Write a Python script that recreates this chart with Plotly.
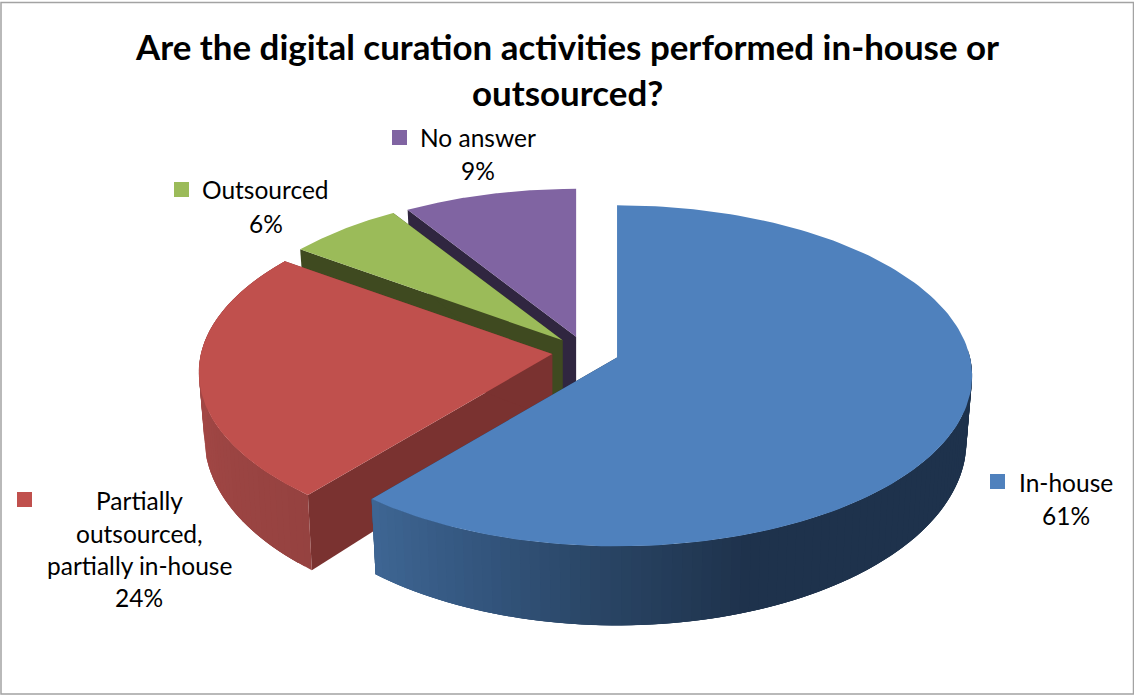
import numpy as np
import plotly.graph_objects as go

# Survey shares, in the clockwise order of the slices
categories = ["In-house", "Partially outsourced, partially in-house", "Outsourced", "No answer"]
label_lines = [["In-house", "61%"],
               ["Partially", "outsourced,", "partially in-house", "24%"],
               ["Outsourced", "6%"],
               ["No answer", "9%"]]
values = [61, 24, 6, 9]
title_lines = ["Are the digital curation activities performed in-house or", "outsourced?"]

top_colors = ["#4f81bd", "#c0504d", "#9bbb59", "#8064a2"]
cut_colors = ["#1f334d", "#7a3230", "#3f4a20", "#302640"]
# Shading of the curved rim: (angle in degrees, colour)
rim_stops = [
    [(90, "#1e324c"), (160, "#1e324c"), (183, "#2a4666"), (199, "#33557d"), (220, "#3f6795")],
    [(219, "#954240"), (260, "#a24745"), (306, "#a54845")],
    [(306, "#6a7f3c"), (328, "#6a7f3c")],
    [(327, "#5a4672"), (360, "#5a4672")],
]

# Screen-space projection of the tilted pie
CX, CY = 585.5, 352.0
RX, RY = 353.0, 168.5
PERSPECTIVE = 0.108
EXPLODE = 0.095
DEPTH_SHRINK = 0.022
WALL = 64.0
WALL_SCALE_X = 0.984
WALL_SCALE_Y = 1.08


def project(theta, apex, scale, lower=False):
    """Map clockwise-from-top angles (radians) onto the slice rim."""
    px, py = np.sin(theta), np.cos(theta)
    w = 1 + PERSPECTIVE * py
    dx, dy = scale * RX * px / w, -scale * RY * py / w
    if lower:
        return apex[0] + dx * WALL_SCALE_X, apex[1] + WALL + dy * WALL_SCALE_Y
    return apex[0] + dx, apex[1] + dy


def hex_rgb(c):
    return np.array([int(c[i:i + 2], 16) for i in (1, 3, 5)], float)


def shade(stops, deg):
    xs = [s[0] for s in stops]
    rgb = [np.interp(deg, xs, [hex_rgb(s[1])[k] for s in stops]) for k in range(3)]
    return "rgb(%d,%d,%d)" % tuple(int(round(v)) for v in rgb)


def polygon(xs, ys, color):
    return go.Scatter(x=list(xs), y=list(ys), mode="lines", fill="toself",
                      fillcolor=color, line=dict(color=color, width=0),
                      hoverinfo="skip", showlegend=False)


fig = go.Figure()
edges = np.concatenate([[0], np.cumsum(values)]) / sum(values) * 2 * np.pi
front_mid = np.cos((edges[0] + edges[1]) / 2)

# Slices are painted back to front; each one gets its walls and then its top
for i in [3, 2, 1, 0]:
    a0, a1 = edges[i], edges[i + 1]
    mid = (a0 + a1) / 2
    apex = (CX + EXPLODE * RX * np.sin(mid), CY - EXPLODE * RY * np.cos(mid))
    low_apex = (apex[0], apex[1] + WALL)
    scale = 1 / (1 + DEPTH_SHRINK * (np.cos(mid) - front_mid))

    # Flat cut faces on both sides of the slice
    for a in (a0, a1):
        tx, ty = project(a, apex, scale)
        bx, by = project(a, apex, scale, lower=True)
        fig.add_trace(polygon([apex[0], tx, bx, low_apex[0], apex[0]],
                              [apex[1], ty, by, low_apex[1], apex[1]], cut_colors[i]))

    # Curved rim: strips overlap their neighbours, which hides the joins
    start = max(a0, np.pi / 2 - 0.05)
    if a1 > start and i < 2:
        steps = np.linspace(start, a1, int((a1 - start) / np.radians(1.5)) + 2)
        for k in range(len(steps) - 1):
            seg = np.linspace(steps[k], steps[min(k + 3, len(steps) - 1)], 8)
            tx, ty = project(seg, apex, scale)
            bx, by = project(seg[::-1], apex, scale, lower=True)
            fig.add_trace(polygon(np.r_[tx, bx], np.r_[ty, by],
                                  shade(rim_stops[i], np.degrees(steps[k]))))

    # Top face
    arc = np.linspace(a0, a1, 160)
    tx, ty = project(arc, apex, scale)
    fig.add_trace(polygon(np.r_[apex[0], tx, apex[0]], np.r_[apex[1], ty, apex[1]], top_colors[i]))

# Data labels: line centres and the legend-key square beside each one
label_x = [1065.5, 139, 265.5, 478]
label_y = [[482, 515], [500, 533, 565, 597], [189, 223], [137, 170]]
key_x = [997.5, 24.5, 181.5, 399.5]
key_y = [481.5, 499.5, 189.5, 137.5]
title_y = [46, 92]

fig.add_trace(go.Scatter(x=key_x, y=key_y, mode="markers",
                         marker=dict(symbol="square", size=15, color=top_colors, line=dict(width=0)),
                         hoverinfo="skip", showlegend=False))

annotations = []
for lines, lx, ly in zip(label_lines, label_x, label_y):
    for text, y in zip(lines, ly):
        annotations.append(dict(x=lx, y=y, xref="x", yref="y", text=text, showarrow=False,
                                xanchor="center", yanchor="middle",
                                font=dict(family="Lato", size=24.5, color="#000000")))
for text, y in zip(title_lines, title_y):
    annotations.append(dict(x=567, y=y, xref="x", yref="y", text="<b>%s</b>" % text, showarrow=False,
                            xanchor="center", yanchor="middle",
                            font=dict(family="Lato", size=34.9, color="#000000")))

fig.update_layout(
    width=1134, height=697,
    margin=dict(l=0, r=0, t=0, b=0),
    paper_bgcolor="#ffffff", plot_bgcolor="#ffffff",
    showlegend=False,
    xaxis=dict(range=[0, 1134], visible=False, fixedrange=True),
    yaxis=dict(range=[697, 0], visible=False, fixedrange=True),
    annotations=annotations,
    shapes=[dict(type="rect", xref="x", yref="y", x0=1, x1=1133.5, y0=2.5, y1=694,
                 line=dict(color="#a3a3a3", width=1.5), fillcolor="rgba(0,0,0,0)")],
)

fig.write_html("out.html", config=dict(displayModeBar=False))
